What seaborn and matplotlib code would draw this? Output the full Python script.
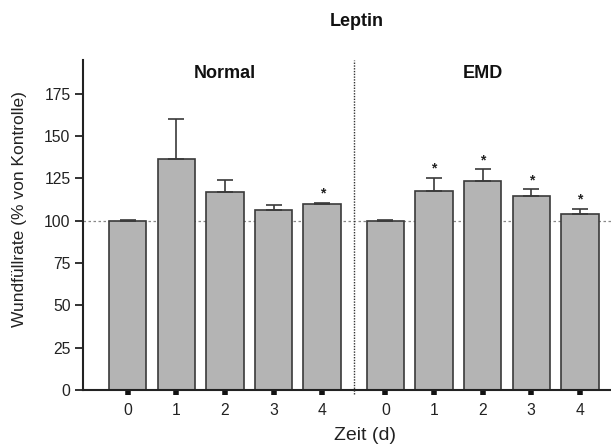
import matplotlib
matplotlib.use("Agg")
import matplotlib.pyplot as plt
import seaborn as sns
import pandas as pd
import numpy as np

# Wound fill rate relative to control, Leptin treatment
days = [0, 1, 2, 3, 4]
normal_mean = [100.0, 136.5, 117.0, 106.3, 109.9]
normal_sem = [0.5, 23.7, 7.3, 3.0, 0.6]
normal_sig = [False, False, False, False, True]
emd_mean = [100.0, 117.8, 123.5, 114.4, 104.1]
emd_sem = [0.4, 7.6, 6.8, 4.1, 3.0]
emd_sig = [False, True, True, True, True]
group_names = ["Normal", "EMD"]
group_gap = 1.3

sns.set_theme(style="white")
plt.rcParams["font.family"] = ["Liberation Sans", "DejaVu Sans"]

pos_normal = [float(d) for d in days]
pos_emd = [pos_normal[-1] + group_gap + d for d in days]
df = pd.DataFrame({
    "pos": pos_normal + pos_emd,
    "mean": normal_mean + emd_mean,
    "sem": normal_sem + emd_sem,
    "sig": normal_sig + emd_sig,
    "label": [str(d) for d in days] * 2,
})

fig = plt.figure(figsize=(6.11, 4.46), dpi=100)
ax = fig.add_axes([83 / 611, 56 / 446, 1 - 83 / 611, (390 - 60) / 446])

sns.barplot(data=df, x="pos", y="mean", native_scale=True, width=0.77,
            color="#b4b4b4", saturation=1, edgecolor="#3a3a3a",
            linewidth=1.2, errorbar=None, ax=ax, zorder=2)

# upper error bars only
ax.errorbar(df["pos"], df["mean"],
            yerr=[np.zeros(len(df)), df["sem"]],
            fmt="none", ecolor="#3a3a3a", elinewidth=1.2,
            capsize=5.5, capthick=1.2, zorder=3)

# significance stars
for p, m, s, sig in zip(df["pos"], df["mean"], df["sem"], df["sig"]):
    if sig:
        ax.text(p, m + s + 5.5, "*", ha="center", va="center",
                fontsize=10, fontweight="bold", color="#222222")

# control reference line
ax.axhline(100, color="#888888", lw=0.9, ls=(0, (2, 2)), zorder=1)

# divider between groups
div_x = (pos_normal[-1] + pos_emd[0]) / 2
ax.plot([div_x, div_x], [-2.5, 195], color="#333333", lw=1.0,
        ls=(0, (1, 1)), clip_on=False, zorder=4)

ax.set_xlim(-0.92, 9.94)
ax.set_ylim(0, 195)
ax.set_yticks(range(0, 176, 25))
ax.set_xticks(df["pos"])
ax.set_xticklabels(df["label"])

for sp in ["top", "right"]:
    ax.spines[sp].set_visible(False)
for sp in ["left", "bottom"]:
    ax.spines[sp].set_color("#222222")
    ax.spines[sp].set_linewidth(1.5)

ax.tick_params(axis="y", direction="out", length=6, width=1.3,
               color="#222222", labelsize=11.3, labelcolor="#222222", pad=3,
               left=True)
ax.tick_params(axis="x", direction="out", length=3.5, width=4,
               color="#111111", labelsize=11.3, labelcolor="#222222", pad=6,
               bottom=True)

ax.set_xlabel("Zeit (d)", fontsize=14, color="#222222", va="center")
ax.xaxis.set_label_coords((365 - 83) / 528, (390 - 435) / 330)
ax.set_ylabel("Wundfüllrate (% von Kontrolle)", fontsize=12.5,
              color="#222222", va="center")
ax.yaxis.set_label_coords((20 - 83) / 528, (390 - 209) / 330)

# group headers
for name, positions in zip(group_names, [pos_normal, pos_emd]):
    ax.text(positions[2], 187, name, ha="center", va="center",
            fontsize=13, fontweight="bold", color="#111111")

fig.text(357 / 611, 1 - 21 / 446, "Leptin", ha="center", va="center",
         fontsize=13, fontweight="bold", color="#111111")

fig.savefig("out.png", dpi=100)
